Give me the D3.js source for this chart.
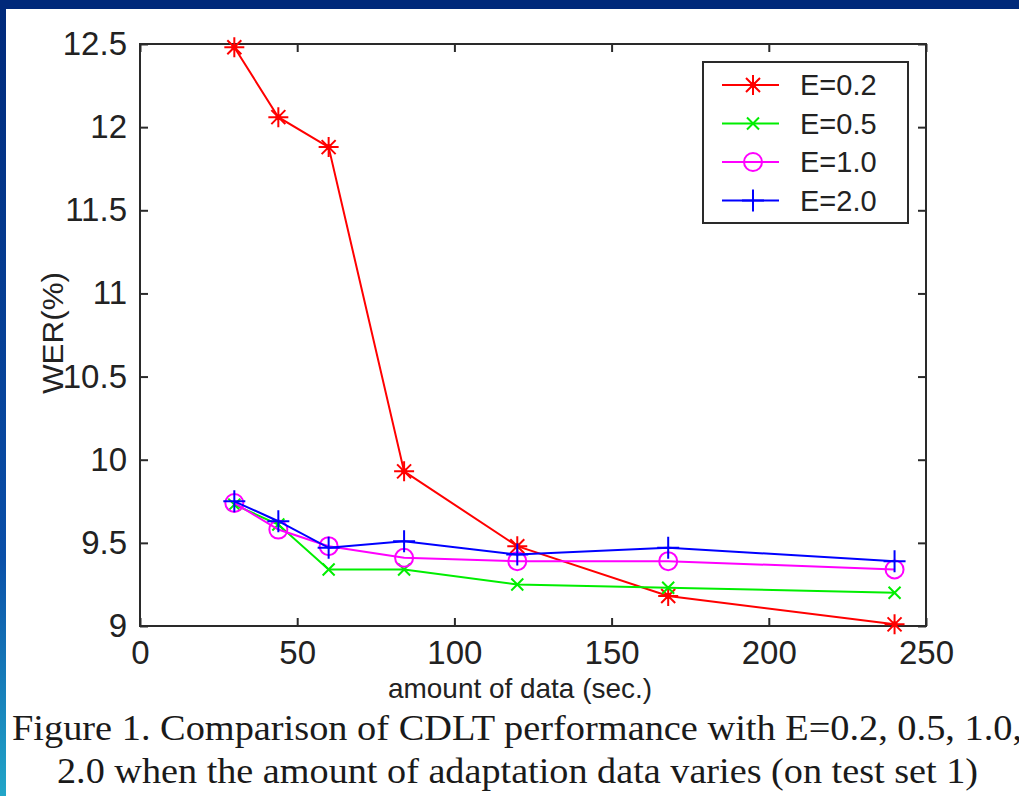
<!DOCTYPE html>
<html>
<head>
<meta charset="utf-8">
<script src="https://cdn.jsdelivr.net/npm/d3@7"></script>
<style>
  body { margin: 0; background: #fff; }
  svg { display: block; }
</style>
</head>
<body>
<div class="chart"></div>
<script>
// data
const amounts = [30, 44, 60, 84, 120, 168, 240];
const wer_e02 = [12.48, 12.06, 11.88, 9.93, 9.48, 9.18, 9.01];
const wer_e05 = [9.73, 9.61, 9.34, 9.34, 9.25, 9.23, 9.20];
const wer_e10 = [9.74, 9.58, 9.48, 9.41, 9.39, 9.39, 9.34];
const wer_e20 = [9.75, 9.63, 9.47, 9.51, 9.43, 9.47, 9.39];
const series_names = ['E=0.2', 'E=0.5', 'E=1.0', 'E=2.0'];
const x_ticks = [0, 50, 100, 150, 200, 250];
const y_ticks = [9, 9.5, 10, 10.5, 11, 11.5, 12, 12.5];

const series = [
    {name: series_names[0], values: wer_e02, color: '#ff0000', marker: 'asterisk'},
    {name: series_names[1], values: wer_e05, color: '#00ee00', marker: 'times'},
    {name: series_names[2], values: wer_e10, color: '#ff00ff', marker: 'circle'},
    {name: series_names[3], values: wer_e20, color: '#0000ff', marker: 'plus'}
];

const svg_width = 1019;
const svg_height = 796;
const margin = {top: 44, right: 93, bottom: 170, left: 140};
const chart_width = svg_width - margin.left - margin.right;
const chart_height = svg_height - margin.top - margin.bottom;

const svg = d3.select('.chart').append('svg')
    .attr('width', svg_width)
    .attr('height', svg_height);

// slide background bits
const grad = svg.append('defs').append('linearGradient')
    .attr('id', 'side').attr('x1', 0).attr('y1', 0).attr('x2', 0).attr('y2', 1);
grad.append('stop').attr('offset', '0%').attr('stop-color', '#00297a');
grad.append('stop').attr('offset', '70%').attr('stop-color', '#0a4fa8');
grad.append('stop').attr('offset', '100%').attr('stop-color', '#22a6c8');
svg.append('rect').attr('width', svg_width).attr('height', svg_height).attr('fill', '#fff');
svg.append('rect').attr('width', 6).attr('height', svg_height).attr('fill', 'url(#side)');
svg.append('rect').attr('width', svg_width).attr('height', 9).attr('fill', '#00297a');

const g = svg.append('g').attr('transform', `translate(${margin.left}, ${margin.top})`);

const x_scale = d3.scaleLinear().domain([0, 250]).range([0, chart_width]);
const y_scale = d3.scaleLinear().domain([9, 12.5]).range([chart_height, 0]);

const axis_color = '#2a2a2a';
const tick_font = '"Liberation Sans", Arial, sans-serif';

function style_axis(sel){
    sel.select('.domain').remove();
    sel.selectAll('.tick line').attr('stroke', axis_color).attr('stroke-width', 2);
    sel.selectAll('.tick text')
        .attr('fill', '#222')
        .style('font-family', tick_font)
        .style('font-size', '33px');
}

// bottom axis (inward ticks)
g.append('g')
    .attr('transform', `translate(0, ${chart_height})`)
    .call(d3.axisBottom(x_scale).tickValues(x_ticks).tickSizeInner(-8).tickSizeOuter(0).tickPadding(15))
    .call(style_axis);
// top axis ticks only
g.append('g')
    .call(d3.axisTop(x_scale).tickValues(x_ticks).tickSizeInner(-8).tickSizeOuter(0).tickFormat(''))
    .call(style_axis);
// left axis
g.append('g')
    .call(d3.axisLeft(y_scale).tickValues(y_ticks).tickSizeInner(-8).tickSizeOuter(0).tickPadding(13).tickFormat(d => String(d)))
    .call(style_axis);
// right axis ticks only
g.append('g')
    .attr('transform', `translate(${chart_width}, 0)`)
    .call(d3.axisRight(y_scale).tickValues(y_ticks).tickSizeInner(-8).tickSizeOuter(0).tickFormat(''))
    .call(style_axis);

// frame
g.append('rect')
    .attr('width', chart_width).attr('height', chart_height)
    .attr('fill', 'none').attr('stroke', axis_color).attr('stroke-width', 2);

// marker shapes
function marker_path(type){
    const p = d3.path();
    if(type === 'plus'){
        p.moveTo(-11, 0); p.lineTo(11, 0);
        p.moveTo(0, -11); p.lineTo(0, 11);
    } else if(type === 'times'){
        p.moveTo(-6, -6); p.lineTo(6, 6);
        p.moveTo(-6, 6); p.lineTo(6, -6);
    } else if(type === 'asterisk'){
        p.moveTo(-10, 0); p.lineTo(10, 0);
        p.moveTo(0, -10); p.lineTo(0, 10);
        p.moveTo(-7, -7); p.lineTo(7, 7);
        p.moveTo(-7, 7); p.lineTo(7, -7);
    }
    return p.toString();
}

function draw_marker(sel, type, color){
    if(type === 'circle'){
        sel.append('circle').attr('r', 9)
            .attr('fill', 'none').attr('stroke', color).attr('stroke-width', 2);
    } else {
        sel.append('path').attr('d', marker_path(type))
            .attr('fill', 'none').attr('stroke', color).attr('stroke-width', 2);
        if(type === 'asterisk'){
            sel.append('circle').attr('r', 3).attr('fill', color);
        }
    }
}

const line = d3.line()
    .x((d, i) => x_scale(amounts[i]))
    .y(d => y_scale(d));

series.forEach(s => {
    g.append('path')
        .datum(s.values)
        .attr('d', line)
        .attr('fill', 'none')
        .attr('stroke', s.color)
        .attr('stroke-width', 2);
    s.values.forEach((v, i) => {
        const m = g.append('g')
            .attr('transform', `translate(${x_scale(amounts[i])}, ${y_scale(v)})`);
        draw_marker(m, s.marker, s.color);
    });
});

// legend
const legend = svg.append('g').attr('transform', 'translate(703, 62)');
legend.append('rect')
    .attr('width', 205).attr('height', 161)
    .attr('fill', '#fff').attr('stroke', axis_color).attr('stroke-width', 2);
series.forEach((s, i) => {
    const row = legend.append('g').attr('transform', `translate(0, ${23 + i * 38.5})`);
    row.append('line')
        .attr('x1', 19).attr('x2', 76)
        .attr('stroke', s.color).attr('stroke-width', 2);
    const m = row.append('g').attr('transform', 'translate(50, 0)');
    draw_marker(m, s.marker, s.color);
    row.append('text')
        .attr('x', 97).attr('y', 0).attr('dy', '0.36em')
        .attr('fill', '#222')
        .style('font-family', tick_font)
        .style('font-size', '29px')
        .text(s.name);
});

// axis labels
svg.append('text')
    .attr('x', 520).attr('y', 698)
    .attr('text-anchor', 'middle')
    .attr('textLength', 264).attr('lengthAdjust', 'spacingAndGlyphs')
    .attr('fill', '#222')
    .style('font-family', tick_font)
    .style('font-size', '28px')
    .text('amount of data (sec.)');

svg.append('text')
    .attr('transform', 'translate(63, 333) rotate(-90)')
    .attr('text-anchor', 'middle')
    .attr('textLength', 122).attr('lengthAdjust', 'spacingAndGlyphs')
    .attr('fill', '#222')
    .style('font-family', tick_font)
    .style('font-size', '30px')
    .text('WER(%)');

// caption
const cap_font = '"Liberation Serif", "Times New Roman", serif';
svg.append('text')
    .attr('x', 12).attr('y', 740)
    .attr('textLength', 1010).attr('lengthAdjust', 'spacingAndGlyphs')
    .attr('fill', '#1a1a1a')
    .style('font-family', cap_font)
    .style('font-size', '36px')
    .text('Figure 1. Comparison of CDLT performance with E=0.2, 0.5, 1.0,');
svg.append('text')
    .attr('x', 57).attr('y', 783)
    .attr('textLength', 921).attr('lengthAdjust', 'spacingAndGlyphs')
    .attr('fill', '#1a1a1a')
    .style('font-family', cap_font)
    .style('font-size', '36px')
    .text('2.0 when the amount of adaptation data varies (on test set 1)');
</script>
</body>
</html>
